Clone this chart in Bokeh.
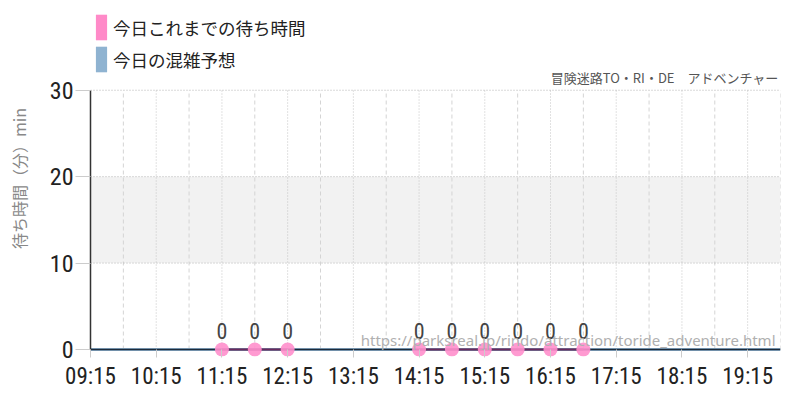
from bokeh.plotting import figure
from bokeh.models import (FixedTicker, BoxAnnotation, Label, Legend, LegendItem,
                          ColumnDataSource, Range1d)
from bokeh.core.properties import value
from bokeh.embed import file_html
from bokeh.resources import INLINE

# ---- data ----
tick_labels = ["09:15", "10:15", "11:15", "12:15", "13:15", "14:15",
               "15:15", "16:15", "17:15", "18:15", "19:15"]
actual_times = ["11:15", "11:45", "12:15", "14:15", "14:45", "15:15",
                "15:45", "16:15", "16:45"]
actual_waits = [0, 0, 0, 0, 0, 0, 0, 0, 0]
forecast_times = ["09:15", "09:45", "10:15", "10:45", "11:15", "11:45", "12:15",
                  "12:45", "13:15", "13:45", "14:15", "14:45", "15:15", "15:45",
                  "16:15", "16:45", "17:15", "17:45", "18:15", "18:45", "19:15",
                  "19:45"]
forecast_waits = [0, 0, 0, 0, 0, 0, 0, 0, 0, 0, 0, 0, 0, 0, 0, 0, 0, 0, 0, 0, 0, 0]
y_ticks = [0, 10, 20, 30]
band_low, band_high = 10, 20
title_text = "冒険迷路TO・RI・DE\u3000アドベンチャー"
url_text = "https://parksreal.jp/rindo/attraction/toride_adventure.html"
legend_actual = "今日これまでの待ち時間"
legend_forecast = "今日の混雑予想"
y_label = "待ち時間（分）min"


def hrs(s):
    h, m = s.split(":")
    return int(h) + int(m) / 60.0


NUM_FONT = "Roboto Condensed, DejaVu Sans Condensed"
JP_FONT = "Noto Sans CJK JP"

tick_vals = [hrs(t) for t in tick_labels]
ax = [hrs(t) for t in actual_times]
fx = [hrs(t) for t in forecast_times]
half_vals = [v for v in fx if v not in tick_vals]
y0, y1 = y_ticks[0], y_ticks[-1]

# layout: plot area for 0..30 spans 260px; frame extends to the top of canvas
H = 392
FRAME_BOTTOM = 357
PX_PER_UNIT = 260 / (y1 - y0)
y_start = y0 - (FRAME_BOTTOM - 350) / PX_PER_UNIT
y_end = y_start + FRAME_BOTTOM / PX_PER_UNIT

# break actual line where there is a gap
lx, ly = [], []
for i, (x, y) in enumerate(zip(ax, actual_waits)):
    if i > 0 and x - ax[i - 1] > 0.51:
        lx.append(float("nan"))
        ly.append(float("nan"))
    lx.append(x)
    ly.append(y)

p = figure(width=784, height=H, output_backend="svg", toolbar_location=None,
           x_range=Range1d(fx[0], fx[-1]), y_range=Range1d(y_start, y_end),
           min_border_left=90, min_border_right=4, min_border_top=0,
           min_border_bottom=H - FRAME_BOTTOM, background_fill_color="white",
           border_fill_color="white")
p.outline_line_color = None
p.xgrid.grid_line_color = None
p.ygrid.grid_line_color = None

# band
p.add_layout(BoxAnnotation(bottom=band_low, top=band_high, left=fx[0], right=fx[-1],
                           fill_color="#f2f2f2", fill_alpha=1, line_color=None,
                           level="underlay"))

# grid lines drawn within 0..30
p.segment(x0=half_vals, x1=half_vals, y0=[y0] * len(half_vals), y1=[y1] * len(half_vals),
          line_color="#d4d4d4", line_dash="4 3", line_width=1)
p.segment(x0=tick_vals, x1=tick_vals, y0=[y0] * len(tick_vals), y1=[y1] * len(tick_vals),
          line_color="#c4c4c4", line_dash="1 2", line_width=1)
hy = y_ticks[1:]
p.segment(x0=[fx[0]] * len(hy), x1=[fx[-1]] * len(hy), y0=hy, y1=hy,
          line_color="#b4b4b4", line_dash="1 2", line_width=1)

# axes
p.xaxis.ticker = FixedTicker(ticks=tick_vals)
p.xaxis.major_label_overrides = {v: l for v, l in zip(tick_vals, tick_labels)}
p.yaxis.ticker = FixedTicker(ticks=y_ticks)
for a in (p.xaxis, p.yaxis):
    a.major_tick_line_color = "#cccccc"
    a.minor_tick_line_color = None
    a.major_label_text_font = NUM_FONT
    a.major_label_text_color = "#222222"
p.xaxis.axis_line_color = None
p.yaxis.axis_line_color = "#333333"
p.yaxis.axis_line_width = 1.5
p.yaxis.bounds = (y0, y1)
p.yaxis.major_label_text_font_size = "24px"
p.xaxis.major_label_text_font_size = "23px"
p.yaxis.major_tick_out = 15
p.yaxis.major_tick_in = 0
p.yaxis.major_label_standoff = 2
p.xaxis.major_tick_out = 1
p.xaxis.major_tick_in = 7
p.xaxis.major_label_standoff = 5
p.yaxis.axis_label = y_label
p.yaxis.axis_label_text_font = JP_FONT
p.yaxis.axis_label_text_font_size = "16px"
p.yaxis.axis_label_text_font_style = "normal"
p.yaxis.axis_label_text_color = "#888888"
p.yaxis.axis_label_standoff = 16

# forecast line
p.line(fx, forecast_waits, line_color="#8fb3d1", line_width=3)
p.line([fx[0], fx[-1]], [forecast_waits[0], forecast_waits[-1]],
       line_color="#1d2b3a", line_width=1.4)

# watermark
p.add_layout(Label(x=fx[-1], y=1.1, text=url_text, text_align="right",
                   text_baseline="middle", x_offset=-5,
                   text_font="Noto Sans", text_font_size="15px",
                   text_color="#b0b0b0"))

# actual line + points
p.line(lx, ly, line_color="#6a2a5e", line_width=2)
src = ColumnDataSource(dict(x=ax, y=actual_waits, t=[str(v) for v in actual_waits]))
p.scatter("x", "y", source=src, size=14, fill_color="#ff8fcc", line_color=None,
          fill_alpha=0.9)
p.text("x", "y", text="t", source=src, y_offset=-11, text_align="center",
       text_baseline="bottom", text_font=value(NUM_FONT), text_font_size="22px",
       text_color="#444444")

# title at top right
p.add_layout(Label(x=fx[-1], y=y1, text=title_text, text_align="right",
                   text_baseline="middle", x_offset=-2, y_offset=13,
                   text_font=JP_FONT, text_font_size="13px",
                   text_color="#555555"))

# legend (glyphs only; no visible marks in the plot)
r1 = p.vbar(x=[float("nan")], top=[float("nan")], width=0.1,
            fill_color="#ff8ac8", line_color=None)
r2 = p.vbar(x=[float("nan")], top=[float("nan")], width=0.1,
            fill_color="#8fb3d1", line_color=None)
leg = Legend(items=[LegendItem(label=legend_actual, renderers=[r1], index=0),
                    LegendItem(label=legend_forecast, renderers=[r2], index=0)],
             location=(4, FRAME_BOTTOM - 76), glyph_width=14, glyph_height=32,
             spacing=0, padding=0, margin=0, label_standoff=5,
             label_text_font=JP_FONT, label_text_font_size="17.5px",
             label_text_color="#222222", border_line_color=None,
             background_fill_alpha=0)
p.add_layout(leg, "center")

open("out.html", "w").write(file_html(p, INLINE))
